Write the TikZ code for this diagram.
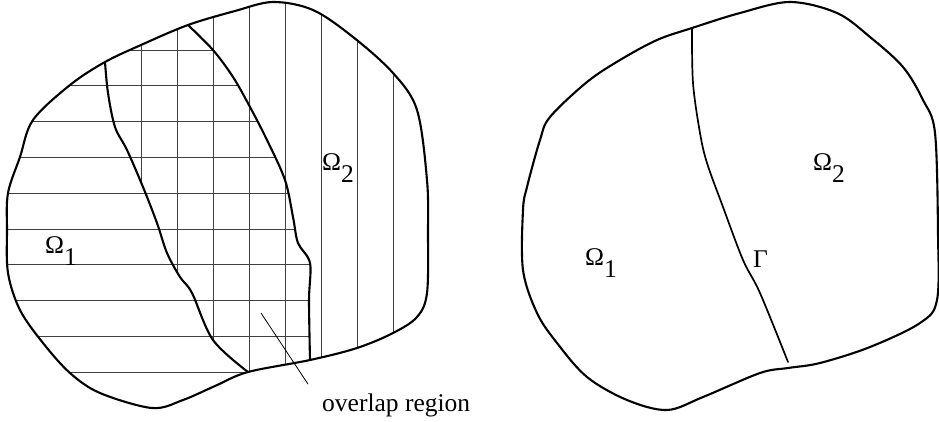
\documentclass[tikz,border=0pt]{standalone}
\usepackage{fontspec}
\setmainfont{Liberation Serif}
\newcommand{\domlbl}[1]{Ω\raisebox{-12pt}{#1}}

\begin{document}
\begin{tikzpicture}[
    x=1pt, y=-1pt,
    bnd/.style={line width=2.1pt, line join=round, line cap=round},
    iface/.style={line width=1.7pt, line cap=round},
    hatch/.style={line width=0.9pt, draw=black!75},
    leader/.style={line width=0.8pt},
    lbl/.style={font=\fontsize{25.5}{30}\selectfont, inner sep=0pt, anchor=base west},
  ]
  \useasboundingbox (0,0) rectangle (939,421);

  % ---- the left domain and its two overlapping pieces
  \def\outerL{plot[smooth cycle, tension=0.55] coordinates {
      (273,2) (313,10) (353,37) (393,73) (417,110) (427,180) (428,233)
      (427,293) (417,317) (393,333) (357,348) (310,360) (248,372)
      (215,386) (183,400) (152,408) (100,393) (70,373) (43,343) (20,310)
      (8,273) (7,230) (8,193) (20,157) (33,120) (70,85) (105,62)
      (141,45) (188,25) (235,11)}}
  \def\cutL{plot[smooth, tension=0.55] coordinates {
      (188,25) (213,50) (233,77) (250,107) (267,140) (285,180) (293,217)
      (298,243) (310,263) (309,300) (310,360)}}
  \def\cutR{plot[smooth, tension=0.55] coordinates {
      (105,62) (108,93) (115,127) (127,150) (143,187) (157,223) (167,253)
      (180,277) (192,293) (213,340) (248,372)}}

  % ---- horizontal lines on the first piece
  \begin{scope}
    \clip \outerL;
    \clip \cutL -- (310,421) -- (0,421) -- (0,0) -- (188,0) -- cycle;
    \foreach \k in {0,...,9}
      \draw[hatch] (0,50+35.8*\k) -- (470,50+35.8*\k);
  \end{scope}

  % ---- vertical lines on the second piece
  \begin{scope}
    \clip \outerL;
    \clip \cutR -- (248,421) -- (470,421) -- (470,0) -- (105,0) -- cycle;
    \foreach \x in {141,177,...,393}
      \draw[hatch] (\x,0) -- (\x,421);
  \end{scope}

  \draw[bnd] \outerL;
  \draw[bnd] \cutL;
  \draw[bnd] \cutR;

  \node[lbl] (om1a) at (45,253) {\domlbl{1}};
  \node[lbl] (om2a) at (322,170) {\domlbl{2}};

  \coordinate (ovtip) at (261,313);
  \node[lbl] (ovtxt) at (322,411) {overlap region};
  \draw[leader] (ovtip) -- ([xshift=-14pt,yshift=9pt]ovtxt.north west);

  % ---- the right domain, cut along the interface
  \draw[bnd] plot[smooth cycle, tension=0.55] coordinates {
      (790,2) (837,13) (870,37) (903,67) (923,100) (935,133) (938,233)
      (937,300) (920,323) (870,347) (820,363) (788,368) (760,373)
      (703,397) (667,410) (627,400) (587,377) (557,343) (537,313)
      (523,270) (523,210) (527,187) (540,140) (550,117) (587,82)
      (620,60) (657,40) (692,28) (740,13)};
  \draw[iface] plot[smooth, tension=0.55] coordinates {
      (692,28) (693,83) (700,133) (707,163) (723,207) (743,260)
      (760,293) (788,362)};

  \node[lbl] (om1b) at (585,265) {\domlbl{1}};
  \node[lbl] (om2b) at (813,170) {\domlbl{2}};
  \node[lbl] (gam) at (753,267) {Γ};

\end{tikzpicture}
\end{document}
